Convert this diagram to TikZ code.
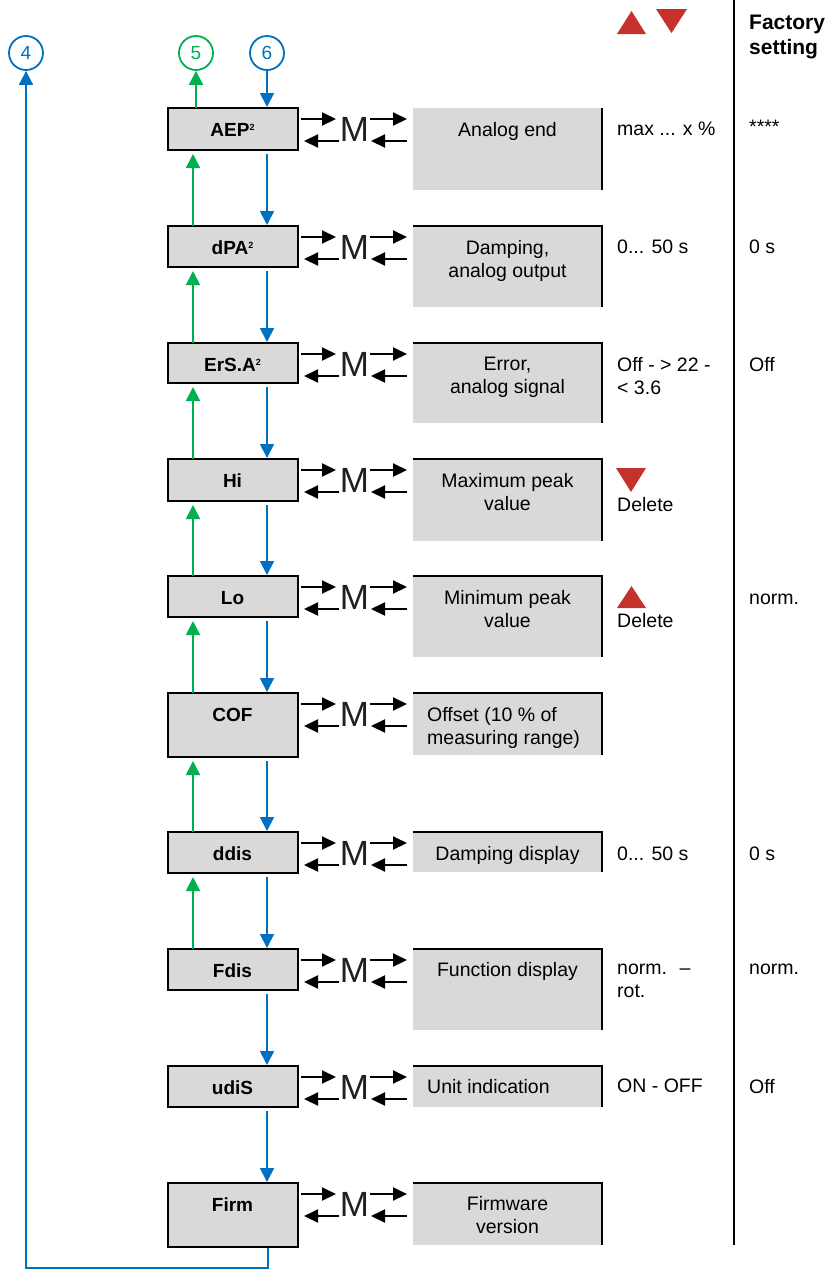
\documentclass[tikz,border=0pt]{standalone}
\usepackage{fontspec}
\setmainfont{Liberation Sans}
\usetikzlibrary{arrows.meta}
\definecolor{boxgray}{RGB}{217,217,217}
\definecolor{myblue}{RGB}{0,112,192}
\definecolor{mygreen}{RGB}{0,176,80}
\definecolor{myred}{RGB}{196,50,46}
\definecolor{mdark}{RGB}{35,31,32}
\newcommand{\mrow}[5]{%
  \node[menu, minimum height=#3, anchor=north west] (#1) at (168,-#2) {};
  \node[mlabel] (#1l) at (232.5,-#2-28) {#4};
  \node[mletter] (#1m) at (354.5,-#2-21.2) {M};
  \node[desc, minimum height=#5, anchor=north west] (#1d) at (413,-#2) {};
  \draw[marr] ([xshift=3,yshift=-11]#1.north east) -- ([xshift=38,yshift=-11]#1.north east);
  \draw[marr] ([xshift=41,yshift=-33]#1.north east) -- ([xshift=6,yshift=-33]#1.north east);
  \draw[marr] ([xshift=-43,yshift=-11]#1d.north west) -- ([xshift=-6,yshift=-11]#1d.north west);
  \draw[marr] ([xshift=-6,yshift=-33]#1d.north west) -- ([xshift=-42,yshift=-33]#1d.north west);
}
\begin{document}
\begin{tikzpicture}[x=1pt,y=1pt,
  menu/.style={draw=black, line width=2.5pt, fill=boxgray, minimum width=130pt, inner sep=0pt, outer sep=0pt, rectangle},
  mlabel/.style={anchor=base, inner sep=0pt, font=\fontsize{19}{23}\selectfont\bfseries},
  mletter/.style={inner sep=0pt, font=\fontsize{35}{40}\selectfont, text=mdark},
  desc/.style={fill=boxgray, minimum width=189pt, inner sep=0pt, outer sep=0pt, rectangle},
  dborder/.style={line width=2.2pt},
  txt/.style={inner sep=0pt, font=\fontsize{19.5}{23}\selectfont},
  dtext/.style={txt, anchor=north, align=center},
  ltext/.style={txt, anchor=north west, align=left},
  marr/.style={line width=2pt, -{Triangle[length=14pt,width=13pt]}},
  blarr/.style={myblue, line width=1.8pt, -{Triangle[length=14pt,width=14pt]}},
  grarr/.style={mygreen, line width=1.8pt, -{Triangle[length=14pt,width=14pt]}},
  circ/.style={circle, line width=1.8pt, minimum size=34pt, inner sep=0pt, font=\fontsize{19}{19}\selectfont},
  tri/.style={fill=myred}
]
\useasboundingbox (0,0) rectangle (827,-1270);

% circles
\node[circ, draw=myblue, text=myblue] (c4) at (26,-53) {4};
\node[circ, draw=mygreen, text=mygreen] (c5) at (196,-53) {5};
\node[circ, draw=myblue, text=myblue] (c6) at (267,-53) {6};

% rows
\mrow{aep}{108}{42}{AEP\raisebox{6pt}{\fontsize{9}{9}\selectfont 2}}{82}
\mrow{dpa}{226}{41}{dPA\raisebox{6pt}{\fontsize{9}{9}\selectfont 2}}{81}
\mrow{ersa}{343}{40}{ErS.A\raisebox{6pt}{\fontsize{9}{9}\selectfont 2}}{80}
\mrow{hi}{459}{42}{Hi}{82}
\mrow{lo}{576}{41}{Lo}{81}
\mrow{cof}{693}{64}{COF}{62}
\mrow{ddis}{832}{41}{ddis}{40}
\mrow{fdis}{949}{41}{Fdis}{81}
\mrow{udis}{1066}{41}{udiS}{41}
\mrow{firm}{1183}{64}{Firm}{62}

% description borders
\draw[dborder] (aepd.north east) -- (aepd.south east);
\foreach \n in {dpad,ersad,hid,lod,cofd,ddisd,fdisd,udisd,firmd}
  \draw[dborder] (\n.north west) -- (\n.north east) -- (\n.south east);

% description texts
\node[dtext] (aept) at (507.5,-122) {Analog end};
\node[dtext] (dpat) at (507.5,-240) {Damping,\\analog output};
\node[dtext] (ersat) at (507.5,-357) {Error,\\analog signal};
\node[dtext] (hit) at (507.5,-473) {Maximum peak\\value};
\node[dtext] (lot) at (507.5,-590) {Minimum peak\\value};
\node[ltext] (coft) at (427,-707) {Offset (10 \% of\\measuring range)};
\node[dtext] (ddist) at (507.5,-846) {Damping display};
\node[dtext] (fdist) at (507.5,-962) {Function display};
\node[ltext] (udist) at (427,-1079) {Unit indication};
\node[dtext] (firmt) at (507.5,-1196) {Firmware\\version};

% value column
\node[ltext] (aepv) at (617,-122) {max ... x \%};
\node[ltext] (dpav) at (617,-240) {0... 50 s};
\node[ltext] (ersav) at (617,-357) {Off - > 22 -\\< 3.6};
\node[ltext] (hiv) at (617,-497) {Delete};
\node[ltext] (lov) at (617,-613) {Delete};
\node[ltext] (ddisv) at (617,-847) {0... 50 s};
\node[ltext] (fdisv) at (617,-964) {norm.~ –\\rot.};
\node[ltext] (udisv) at (617,-1079) {ON - OFF};

% factory column
\node[anchor=north west, inner sep=0pt, align=left, font=\fontsize{21}{25}\selectfont\bfseries] (fhead) at (749,-15) {Factory\\setting};
\node[ltext] (aepf) at (749,-120) {****};
\node[ltext] (dpaf) at (749,-240) {0 s};
\node[ltext] (ersaf) at (749,-357) {Off};
\node[ltext] (lof) at (749,-594) {norm.};
\node[ltext] (ddisf) at (749,-847) {0 s};
\node[ltext] (fdisf) at (749,-964) {norm.};
\node[ltext] (udisf) at (749,-1079) {Off};

% triangles
\fill[tri] (617,-34) -- (646,-34) -- (631.5,-11) -- cycle;
\fill[tri] (656,-9) -- (687,-9) -- (671.5,-33) -- cycle;
\fill[tri] (616,-468) -- (646,-468) -- (631,-492) -- cycle;
\fill[tri] (617,-608) -- (646,-608) -- (631.5,-586) -- cycle;

% divider
\draw[line width=2pt] (734,0) -- (734,-1245);

% connectors
\draw[blarr] (c6.south) -- ([xshift=99,yshift=1]aep.north west);
\draw[grarr] ([xshift=28]aep.north west) -- (c5.south);
\foreach \a/\b in {aep/dpa,dpa/ersa,ersa/hi,hi/lo,lo/cof,cof/ddis,ddis/fdis,fdis/udis,udis/firm}
  \draw[blarr] ([xshift=99,yshift=-4]\a.south west) -- ([xshift=99,yshift=1]\b.north west);
\foreach \a/\b in {aep/dpa,dpa/ersa,ersa/hi,hi/lo,lo/cof,cof/ddis,ddis/fdis}
  \draw[grarr] ([xshift=25]\b.north west) -- ([xshift=25,yshift=-4]\a.south west);
\coordinate (bc) at (268,-1268);
\draw[blarr] ([xshift=100,yshift=-1]firm.south west) -- (bc) -| (c4.south);
\end{tikzpicture}
\end{document}
